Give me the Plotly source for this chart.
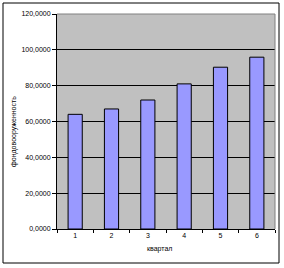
import plotly.graph_objects as go

quarters = ["1", "2", "3", "4", "5", "6"]
values = [64.0, 67.0, 72.0, 81.0, 90.3, 95.9]
y_ticks = [0, 20, 40, 60, 80, 100, 120]

L, R, T, B = 57, 9, 14, 39
W, H = 284, 268
pw, ph = W - L - R, H - T - B

def px_x(p):
    return (p - L) / pw

def px_y(p):
    return (H - B - p) / ph

fig = go.Figure(go.Bar(
    x=quarters, y=values,
    marker=dict(color="#9999FF", line=dict(color="black", width=1)),
    width=0.39,
))

font = dict(family="Liberation Sans, Arial", size=7, color="black")

fig.update_layout(
    width=W, height=H,
    margin=dict(l=L, r=R, t=T, b=B),
    paper_bgcolor="white",
    plot_bgcolor="#C0C0C0",
    separators=", ",
    showlegend=False,
    font=font,
    xaxis=dict(
        type="category",
        showline=True, linecolor="black", linewidth=1,
        ticks="outside", ticklen=3, tickcolor="black",
        tickson="boundaries",
        showgrid=False,
        tickfont=font,
    ),
    yaxis=dict(
        range=[0, 120],
        tickvals=y_ticks,
        tickformat=".4f",
        showline=True, linecolor="black", linewidth=1,
        ticks="outside", ticklen=4, tickcolor="black",
        showgrid=True, gridcolor="black", gridwidth=1,
        tickfont=font,
        zeroline=False,
    ),
    annotations=[
        dict(text="квартал", xref="paper", yref="paper",
             x=px_x(159), y=px_y(249), showarrow=False,
             xanchor="center", yanchor="middle", font=font),
        dict(text="фондовооруженность", xref="paper", yref="paper",
             x=px_x(14), y=px_y(132), showarrow=False, textangle=-90,
             xanchor="center", yanchor="middle", font=font),
    ],
    shapes=[
        dict(type="rect", xref="paper", yref="paper",
             x0=px_x(3), x1=px_x(279), y0=px_y(263), y1=px_y(3),
             line=dict(color="black", width=1), layer="below"),
        dict(type="line", xref="paper", yref="paper",
             x0=0, x1=1, y0=1, y1=1, line=dict(color="#808080", width=1)),
        dict(type="line", xref="paper", yref="paper",
             x0=1, x1=1, y0=0, y1=1, line=dict(color="#808080", width=1)),
    ],
)

fig.write_html("out.html")
